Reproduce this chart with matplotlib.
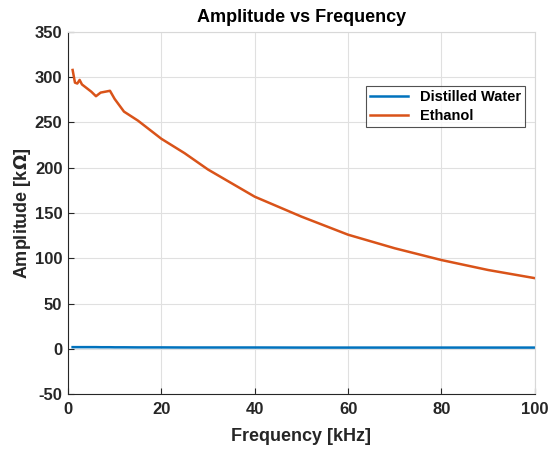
import matplotlib
matplotlib.use("Agg")
import matplotlib.pyplot as plt

# frequency points in kHz
freq = [1, 1.5, 2, 2.5, 3, 4, 5, 6, 7, 8, 9, 10, 12, 15, 20, 25, 30,
        40, 50, 60, 70, 80, 90, 100]
# amplitude in kOhm
water = [1.8, 1.8, 1.8, 1.8, 1.8, 1.8, 1.8, 1.8, 1.7, 1.7, 1.7, 1.6, 1.6, 1.5,
         1.5, 1.4, 1.4, 1.4, 1.3, 1.3, 1.3, 1.3, 1.3, 1.3]
ethanol = [308, 294, 293, 297, 292, 288, 284, 279, 283, 284, 285, 276, 262,
           252, 232, 216, 198, 168, 146, 126, 111, 98, 87, 78]

plt.rcParams['font.family'] = ['Liberation Sans', 'DejaVu Sans']
plt.rcParams['font.weight'] = 'bold'
plt.rcParams['axes.unicode_minus'] = False

fig = plt.figure(figsize=(5.48, 4.5), dpi=100)
ax = fig.add_axes([0.124, 0.1244, 0.852, 0.8046])

ax.plot(freq, water, color='#0072BD', lw=1.8, label='Distilled Water')
ax.plot(freq, ethanol, color='#D95319', lw=1.8, label='Ethanol')

ax.set_xlim(0, 100)
ax.set_ylim(-50, 350)
ax.set_xticks(range(0, 101, 20))
ax.set_yticks(range(-50, 351, 50))
ax.grid(True, color='#e0e0e0', lw=0.8)
ax.set_axisbelow(True)
ax.tick_params(direction='in', length=4, labelsize=12, colors='#262626')
ax.tick_params(axis='x', pad=6)
ax.tick_params(axis='y', pad=4)
for side in ['left', 'bottom']:
    ax.spines[side].set_color('#262626')
    ax.spines[side].set_linewidth(0.8)
for side in ['top', 'right']:
    ax.spines[side].set_color('#d8d8d8')
    ax.spines[side].set_linewidth(0.8)

ax.set_title('Amplitude vs Frequency', fontsize=13, fontweight='bold', pad=7)
ax.set_xlabel('Frequency [kHz]', fontsize=13, fontweight='bold', color='#262626',
              labelpad=8)
ax.set_ylabel('Amplitude [k$\\Omega$]', fontsize=13, fontweight='bold', color='#262626',
              labelpad=1)

leg = ax.legend(loc='upper right', bbox_to_anchor=(0.979, 0.851), borderaxespad=0,
                fancybox=False, edgecolor='#262626', fontsize=10.5,
                handlelength=2.6, borderpad=0.3, labelspacing=0.3)
leg.get_frame().set_linewidth(0.8)

fig.savefig('out.png', dpi=100)
